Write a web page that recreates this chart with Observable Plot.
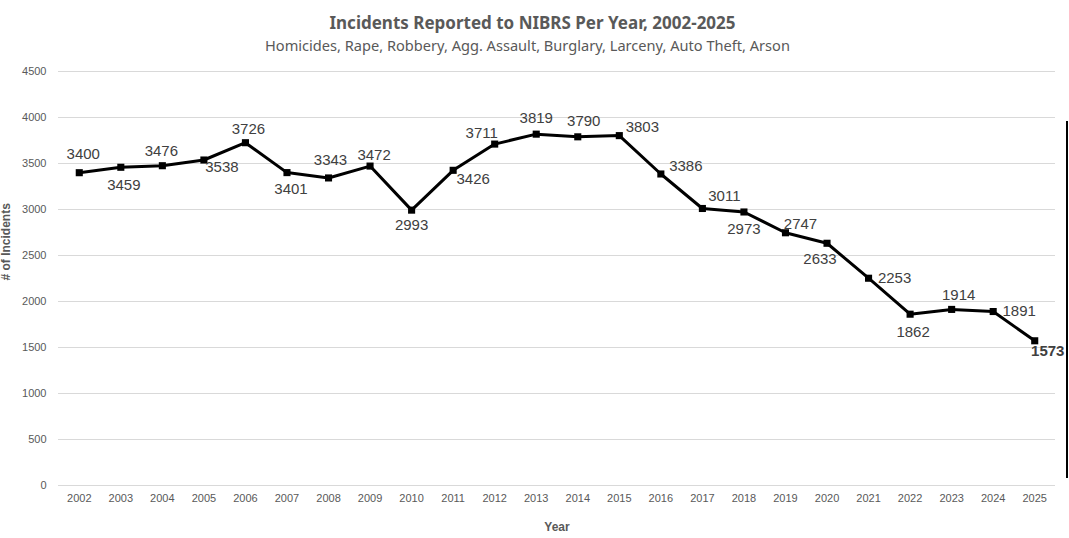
<!DOCTYPE html>
<html>
<head>
<meta charset="utf-8">
<script src="https://cdn.jsdelivr.net/npm/d3@7"></script>
<script src="https://cdn.jsdelivr.net/npm/@observablehq/plot@0.6"></script>
<style>
  html, body { margin: 0; padding: 0; background: #fff; }
  #wrap { position: relative; width: 1069px; height: 538px; overflow: hidden; }
  #title { position: absolute; left: -2px; width: 1069px; top: 11px; text-align: center;
    font-family: "Noto Sans", Inter, sans-serif; font-weight: 700; font-size: 17px; color: #595959; }
  #subtitle { position: absolute; left: -7px; width: 1069px; top: 35px; text-align: center;
    font-family: "Noto Sans", Inter, sans-serif; font-size: 14.6px; color: #595959; }
  #chart { position: absolute; left: 0; top: 58px; }
  #edge { position: absolute; left: 1066px; top: 121px; width: 2px; height: 357px; background: #000; }
</style>
</head>
<body>
<div id="wrap">
  <div id="title">Incidents Reported to NIBRS Per Year, 2002-2025</div>
  <div id="subtitle">Homicides, Rape, Robbery, Agg. Assault, Burglary, Larceny, Auto Theft, Arson</div>
  <div id="chart"></div>
  <div id="edge"></div>
</div>
<script>
const years = ["2002","2003","2004","2005","2006","2007","2008","2009","2010","2011","2012","2013",
               "2014","2015","2016","2017","2018","2019","2020","2021","2022","2023","2024","2025"];
const incidents = [3400,3459,3476,3538,3726,3401,3343,3472,2993,3426,3711,3819,
                   3790,3803,3386,3011,2973,2747,2633,2253,1862,1914,1891,1573];
const yTicks = [0,500,1000,1500,2000,2500,3000,3500,4000,4500];

// label placement (layout only): [dx, dy] from each point
const labelOffsets = [[4,-19],[3,18],[-1,-15],[18,7],[3,-14],[4,17],[2,-18],[4,-11],[0,15],[20,9],
  [-13,-11],[0,-16],[6,-16],[23,-8],[25,-8],[22,-12],[0,17],[15,-9],[-7,16],[26,0],[3,18],[7,-14],[26,0],[13,10]];

const data = years.map((y, i) => ({year: y, value: incidents[i], dx: labelOffsets[i][0], dy: labelOffsets[i][1], last: i === years.length - 1}));

const font = "'Liberation Sans', Arial, sans-serif";

const chart = Plot.plot({
  width: 1069,
  height: 480,
  marginTop: 13,
  marginBottom: 53,
  marginLeft: 58,
  marginRight: 14,
  style: {fontFamily: font, background: "transparent", overflow: "visible"},
  x: {type: "point", domain: years, padding: 0.5, round: false, label: null},
  y: {domain: [0, 4500], label: null},
  marks: [
    Plot.gridY(yTicks, {stroke: "#d9d9d9", strokeOpacity: 1, strokeWidth: 1}),
    Plot.axisY(yTicks, {tickSize: 0, tickPadding: 12, fontSize: 11, fill: "#595959", label: null, tickFormat: d => String(d)}),
    Plot.axisX({tickSize: 0, tickPadding: 9, fontSize: 11, fill: "#595959", label: null}),
    Plot.line(data, {x: "year", y: "value", stroke: "#000", strokeWidth: 3}),
    Plot.dot(data, {x: "year", y: "value", symbol: "square", r: 4, fill: "#000", stroke: "none"}),
    ...data.map(d => Plot.text([d], {x: "year", y: "value", text: d => String(d.value), dx: d.dx, dy: d.dy,
      fontSize: 15, fill: "#404040", fontWeight: d.last ? "bold" : "normal"})),
    Plot.text(["Year"], {frameAnchor: "bottom", dy: 45, fontSize: 12, fontWeight: "bold", fill: "#595959"}),
    Plot.text(["# of Incidents"], {frameAnchor: "left", dx: -52, dy: 2, rotate: -90, fontSize: 12, fontWeight: "bold", fill: "#595959"})
  ]
});
document.getElementById("chart").appendChild(chart);
</script>
</body>
</html>
